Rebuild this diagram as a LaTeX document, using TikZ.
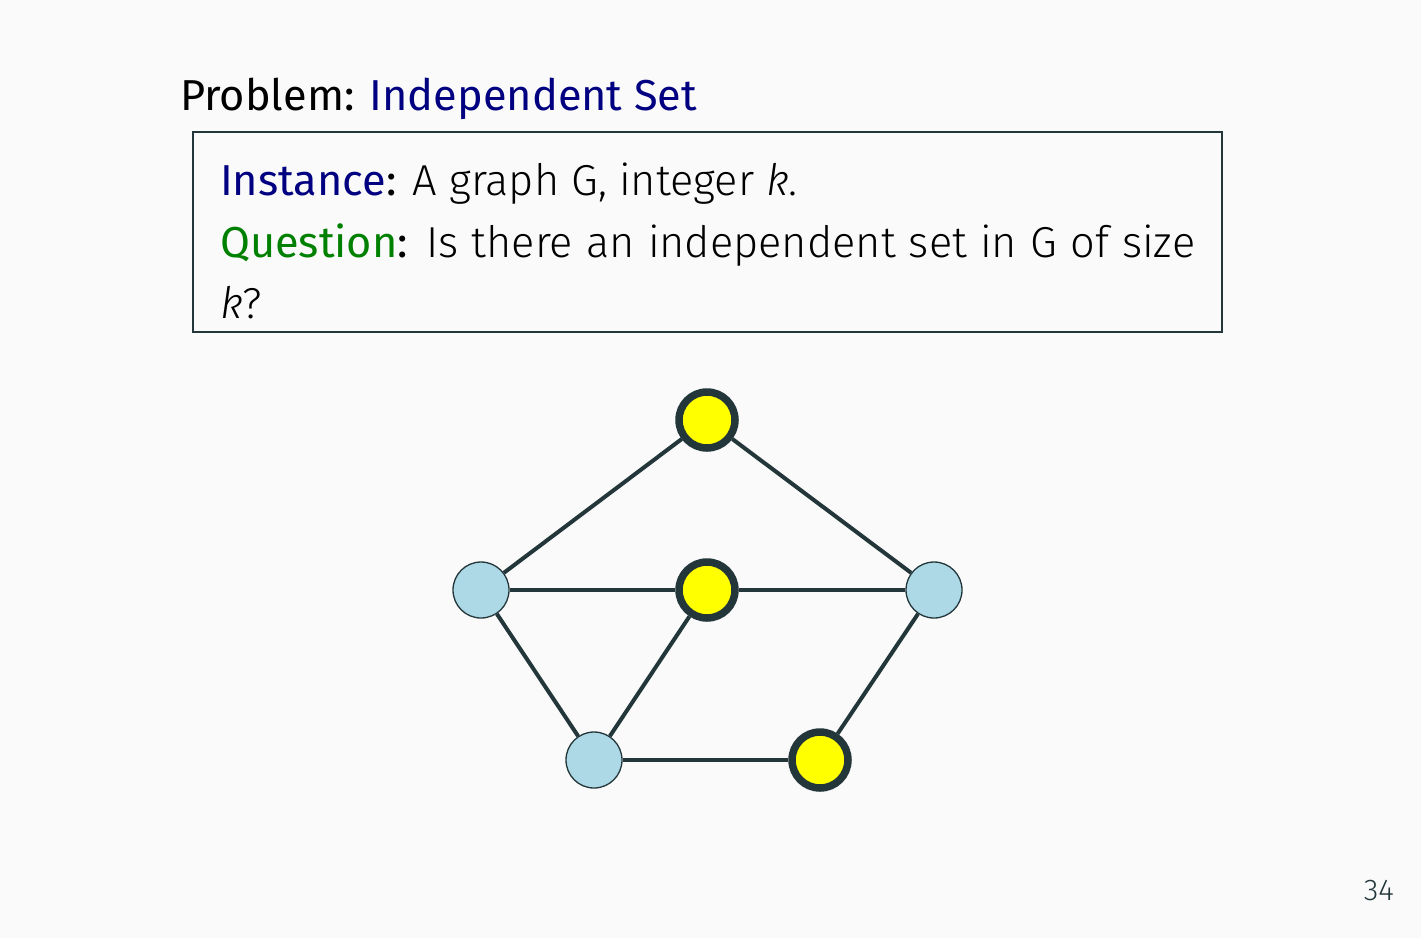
\documentclass[tikz,border=0pt]{standalone}
\usepackage{fontspec}
\setmainfont{Fira Sans Light}[ItalicFont=Fira Sans Light Italic]
\newfontfamily\regfont{Fira Sans}
\definecolor{bg}{HTML}{FAFAFA}
\definecolor{edgec}{HTML}{23373B}
\definecolor{navyc}{HTML}{000080}
\definecolor{greenc}{HTML}{008000}
\definecolor{yel}{HTML}{FFFF00}
\definecolor{lblue}{HTML}{ADD8E6}
\definecolor{pagec}{HTML}{23373B}
\tikzset{
  txt/.style={anchor=base west, inner sep=0pt, font=\fontsize{43.3}{52}\selectfont},
  sel/.style={circle, draw=edgec, line width=7.5pt, fill=yel, minimum size=56pt, inner sep=0pt},
  unsel/.style={circle, draw=edgec, line width=1.3pt, fill=lblue, minimum size=56pt, inner sep=0pt},
  edge/.style={draw=edgec, line width=4pt}
}
\begin{document}
\begin{tikzpicture}[x=1pt,y=-1pt]
\fill[bg] (0,0) rectangle (1421,938);
\useasboundingbox (0,0) rectangle (1421,938);
\node[txt] (prob) at (180,110) {\regfont Problem: \textcolor{navyc}{Independent Set}};
\draw[draw=edgec, line width=1.5pt] (193,132) rectangle (1222,332);
\node[txt] (inst) at (220,195) {\textcolor{navyc}{\regfont Instance}{\regfont :} A graph G, integer \textit{k}.};
\node[txt] (ques) at (220,257) {\hbox to 975pt{\textcolor{greenc}{\regfont Question}{\regfont :} Is there an independent set in G of size}};
\node[txt] (kq) at (220,318) {\textit{k}?};
\node[anchor=base east, inner sep=0pt, text=pagec, font=\fontsize{30}{36}\selectfont] (page) at (1394,900) {34};
\node[sel] (t) at (707,420) {};
\node[unsel] (l) at (481,590) {};
\node[sel] (c) at (707,590) {};
\node[unsel] (r) at (934,590) {};
\node[unsel] (bl) at (594,760) {};
\node[sel] (br) at (820,760) {};
\draw[edge] (t) -- (l);
\draw[edge] (t) -- (r);
\draw[edge] (l) -- (c);
\draw[edge] (c) -- (r);
\draw[edge] (l) -- (bl);
\draw[edge] (c) -- (bl);
\draw[edge] (bl) -- (br);
\draw[edge] (r) -- (br);
\end{tikzpicture}
\end{document}
